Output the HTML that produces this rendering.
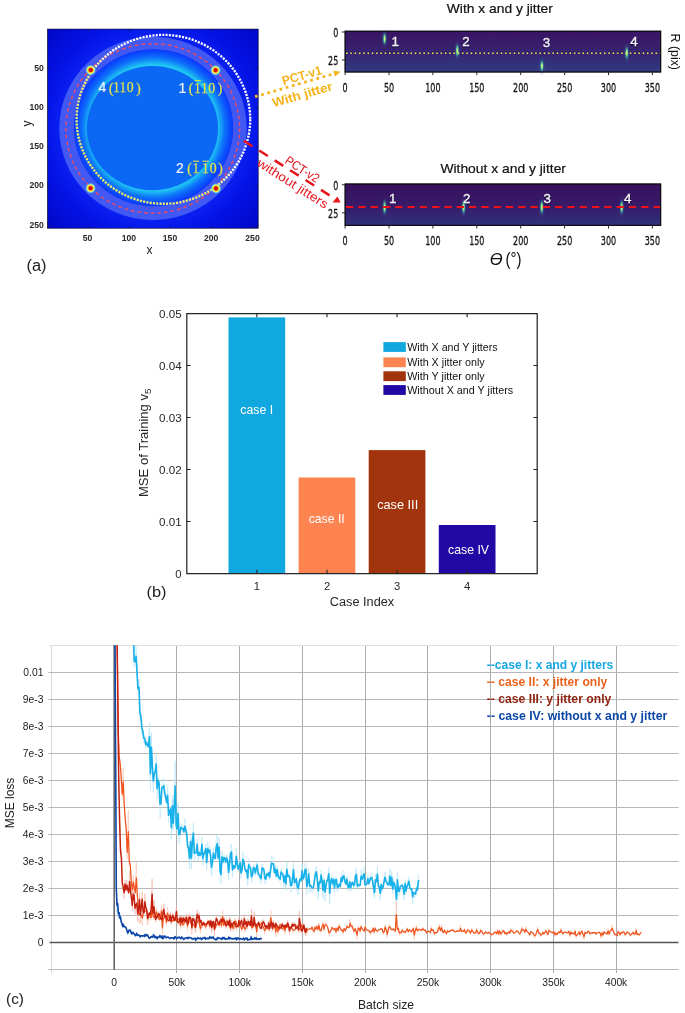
<!DOCTYPE html>
<html><head><meta charset="utf-8"><title>Figure</title>
<style>
html,body{margin:0;padding:0;background:#fff;}
body{width:685px;height:1013px;overflow:hidden;position:relative;}
svg{position:absolute;left:0;top:0;display:block;}
text{font-family:"Liberation Sans",sans-serif;}
.ser{font-family:"Liberation Serif",serif;}
.dj{font-family:"DejaVu Sans","Liberation Sans",sans-serif;}
</style></head><body>
<svg width="685" height="1013" viewBox="0 0 685 1013">
<defs>
<radialGradient id="bgA" gradientUnits="userSpaceOnUse" cx="153" cy="128" r="150">
<stop offset="0.60" stop-color="#0a22f2"/><stop offset="0.72" stop-color="#0414e6"/><stop offset="1" stop-color="#0004c4"/>
</radialGradient>
<radialGradient id="glowA" cx="0.5" cy="0.5" r="0.5">
<stop offset="0.80" stop-color="#20c8f2"/><stop offset="0.84" stop-color="#17a6f5"/><stop offset="0.89" stop-color="#0e74fa"/><stop offset="0.95" stop-color="#0b50fc"/><stop offset="1" stop-color="#0a3afc"/>
</radialGradient>
<radialGradient id="spot" cx="0.5" cy="0.5" r="0.5">
<stop offset="0" stop-color="#c40a0a"/><stop offset="0.33" stop-color="#dc2410"/><stop offset="0.45" stop-color="#ffb820"/><stop offset="0.58" stop-color="#f6fa50"/><stop offset="0.74" stop-color="#78f0d0" stop-opacity="0.8"/><stop offset="1" stop-color="#30b0ff" stop-opacity="0"/>
</radialGradient>
<linearGradient id="dotg" gradientUnits="userSpaceOnUse" x1="95" y1="195" x2="230" y2="45">
<stop offset="0" stop-color="#f0ee58"/><stop offset="0.42" stop-color="#f4f078"/><stop offset="0.58" stop-color="#ffffff"/><stop offset="1" stop-color="#ffffff"/>
</linearGradient>
<linearGradient id="hm1" x1="0" y1="0" x2="0" y2="1">
<stop offset="0" stop-color="#3a1464"/><stop offset="0.5" stop-color="#372370"/><stop offset="1" stop-color="#2f3b83"/>
</linearGradient>
<linearGradient id="hm2" x1="0" y1="0" x2="0" y2="1">
<stop offset="0" stop-color="#38105c"/><stop offset="0.55" stop-color="#371b69"/><stop offset="1" stop-color="#2f327b"/>
</linearGradient>
<radialGradient id="streak" cx="0.5" cy="0.5" r="0.5">
<stop offset="0" stop-color="#f0f070"/><stop offset="0.32" stop-color="#a4ea88"/><stop offset="0.62" stop-color="#40b89c" stop-opacity="0.7"/><stop offset="1" stop-color="#2a7f92" stop-opacity="0"/>
</radialGradient>
<radialGradient id="halo" cx="0.5" cy="0.5" r="0.5">
<stop offset="0" stop-color="#3c90b4" stop-opacity="0.55"/><stop offset="0.5" stop-color="#3878a8" stop-opacity="0.3"/><stop offset="1" stop-color="#34609c" stop-opacity="0"/>
</radialGradient>
<clipPath id="clipA"><rect x="47.4" y="29.1" width="210.8" height="199.1"/></clipPath>
<clipPath id="clipC"><rect x="52" y="645.3" width="627" height="325"/></clipPath>
<filter id="b1" x="-20%" y="-20%" width="140%" height="140%"><feGaussianBlur stdDeviation="0.55"/></filter>
</defs>

<g clip-path="url(#clipA)">
<rect x="47" y="29" width="212" height="200" fill="url(#bgA)"/>
<path fill="#4258f3" fill-rule="evenodd" filter="url(#b1)" d="M 59.30 128.35 a 93.70 91.65 0 1 0 187.40 0 a 93.70 91.65 0 1 0 -187.40 0 Z M 74.10 127.70 a 79.40 78.20 0 1 0 158.80 0 a 79.40 78.20 0 1 0 -158.80 0 Z"/>
<ellipse cx="153.5" cy="127.7" rx="79.7" ry="78.5" fill="url(#glowA)"/>
<ellipse cx="152.5" cy="128.15" rx="65.6" ry="62.05" fill="#0a68f5"/>
<ellipse cx="152.75" cy="128.45" rx="86.85" ry="84.75" fill="none" stroke="#ee4a62" stroke-width="1.4" stroke-dasharray="3.6 3.05"/>
<ellipse cx="163.4" cy="119.35" rx="86.8" ry="84.45" fill="none" stroke="url(#dotg)" stroke-width="2.35" stroke-dasharray="2.1 1.22"/>
<circle cx="90.7" cy="70.0" r="5.6" fill="url(#spot)"/>
<circle cx="215.6" cy="70.2" r="5.6" fill="url(#spot)"/>
<circle cx="90.6" cy="188.2" r="5.6" fill="url(#spot)"/>
<circle cx="216.0" cy="188.4" r="5.6" fill="url(#spot)"/>
</g>
<rect x="47.4" y="29.1" width="210.8" height="199.1" fill="none" stroke="#14143c" stroke-width="0.7"/>
<path d="M88.2 228.2v-2M88.2 29.1v2M47.4 68.2h2M258.2 68.2h-2" stroke="#101030" stroke-width="0.7"/>
<path d="M129.4 228.2v-2M129.4 29.1v2M47.4 107.7h2M258.2 107.7h-2" stroke="#101030" stroke-width="0.7"/>
<path d="M170.6 228.2v-2M170.6 29.1v2M47.4 147.2h2M258.2 147.2h-2" stroke="#101030" stroke-width="0.7"/>
<path d="M211.8 228.2v-2M211.8 29.1v2M47.4 186.7h2M258.2 186.7h-2" stroke="#101030" stroke-width="0.7"/>
<path d="M253.0 228.2v-2M253.0 29.1v2M47.4 226.2h2M258.2 226.2h-2" stroke="#101030" stroke-width="0.7"/>
<text x="102.5" y="92.3" font-size="14" fill="#f2f2fc" stroke="#f2f2fc" stroke-width="0.2" text-anchor="middle">4</text>
<text class="ser" x="111.3" y="92.9" font-size="15.4" fill="#e8e248" stroke="#e8e248" stroke-width="0.25" text-anchor="middle" textLength="4.5" lengthAdjust="spacingAndGlyphs">(</text>
<text class="ser" x="116.5" y="92.3" font-size="15.4" fill="#e8e248" stroke="#e8e248" stroke-width="0.25" text-anchor="middle" textLength="6.3" lengthAdjust="spacingAndGlyphs">1</text>
<text class="ser" x="122.9" y="92.3" font-size="15.4" fill="#e8e248" stroke="#e8e248" stroke-width="0.25" text-anchor="middle" textLength="6.3" lengthAdjust="spacingAndGlyphs">1</text>
<text class="ser" x="130.2" y="92.3" font-size="15.4" fill="#e8e248" stroke="#e8e248" stroke-width="0.25" text-anchor="middle" textLength="6.9" lengthAdjust="spacingAndGlyphs">0</text>
<text class="ser" x="138.6" y="92.9" font-size="15.4" fill="#e8e248" stroke="#e8e248" stroke-width="0.25" text-anchor="middle" textLength="4.5" lengthAdjust="spacingAndGlyphs">)</text>
<text x="182.5" y="92.7" font-size="14" fill="#f2f2fc" stroke="#f2f2fc" stroke-width="0.2" text-anchor="middle">1</text>
<text class="ser" x="190.9" y="93.3" font-size="15.4" fill="#e8e248" stroke="#e8e248" stroke-width="0.25" text-anchor="middle" textLength="4.5" lengthAdjust="spacingAndGlyphs">(</text>
<text class="ser" x="197.5" y="92.7" font-size="15.4" fill="#e8e248" stroke="#e8e248" stroke-width="0.25" text-anchor="middle" textLength="6.3" lengthAdjust="spacingAndGlyphs">1</text>
<text class="ser" x="204.3" y="92.7" font-size="15.4" fill="#e8e248" stroke="#e8e248" stroke-width="0.25" text-anchor="middle" textLength="6.3" lengthAdjust="spacingAndGlyphs">1</text>
<text class="ser" x="211.6" y="92.7" font-size="15.4" fill="#e8e248" stroke="#e8e248" stroke-width="0.25" text-anchor="middle" textLength="6.9" lengthAdjust="spacingAndGlyphs">0</text>
<text class="ser" x="219.9" y="93.3" font-size="15.4" fill="#e8e248" stroke="#e8e248" stroke-width="0.25" text-anchor="middle" textLength="4.5" lengthAdjust="spacingAndGlyphs">)</text>
<line x1="194.7" y1="80.6" x2="200.7" y2="80.6" stroke="#e8e248" stroke-width="1.1"/>
<text x="179.9" y="172.8" font-size="14" fill="#f2f2fc" stroke="#f2f2fc" stroke-width="0.2" text-anchor="middle">2</text>
<text class="ser" x="189.5" y="173.4" font-size="15.4" fill="#e8e248" stroke="#e8e248" stroke-width="0.25" text-anchor="middle" textLength="4.5" lengthAdjust="spacingAndGlyphs">(</text>
<text class="ser" x="196.0" y="172.8" font-size="15.4" fill="#e8e248" stroke="#e8e248" stroke-width="0.25" text-anchor="middle" textLength="6.3" lengthAdjust="spacingAndGlyphs">1</text>
<text class="ser" x="205.4" y="172.8" font-size="15.4" fill="#e8e248" stroke="#e8e248" stroke-width="0.25" text-anchor="middle" textLength="6.3" lengthAdjust="spacingAndGlyphs">1</text>
<text class="ser" x="213.3" y="172.8" font-size="15.4" fill="#e8e248" stroke="#e8e248" stroke-width="0.25" text-anchor="middle" textLength="6.9" lengthAdjust="spacingAndGlyphs">0</text>
<text class="ser" x="220.6" y="173.4" font-size="15.4" fill="#e8e248" stroke="#e8e248" stroke-width="0.25" text-anchor="middle" textLength="4.5" lengthAdjust="spacingAndGlyphs">)</text>
<line x1="193.0" y1="161.2" x2="199.0" y2="161.2" stroke="#e8e248" stroke-width="1.1"/>
<line x1="202.4" y1="161.2" x2="208.5" y2="161.2" stroke="#e8e248" stroke-width="1.1"/>
<text x="87.5" y="240.6" font-size="8.6" fill="#282828" text-anchor="middle" font-weight="bold">50</text>
<text x="43.8" y="71.1" font-size="8.6" fill="#282828" text-anchor="end" font-weight="bold">50</text>
<text x="128.8" y="240.6" font-size="8.6" fill="#282828" text-anchor="middle" font-weight="bold">100</text>
<text x="43.8" y="110.2" font-size="8.6" fill="#282828" text-anchor="end" font-weight="bold">100</text>
<text x="170.0" y="240.6" font-size="8.6" fill="#282828" text-anchor="middle" font-weight="bold">150</text>
<text x="43.8" y="149.3" font-size="8.6" fill="#282828" text-anchor="end" font-weight="bold">150</text>
<text x="211.2" y="240.6" font-size="8.6" fill="#282828" text-anchor="middle" font-weight="bold">200</text>
<text x="43.8" y="188.4" font-size="8.6" fill="#282828" text-anchor="end" font-weight="bold">200</text>
<text x="252.5" y="240.6" font-size="8.6" fill="#282828" text-anchor="middle" font-weight="bold">250</text>
<text x="43.8" y="227.5" font-size="8.6" fill="#282828" text-anchor="end" font-weight="bold">250</text>
<text x="149.5" y="253.6" font-size="12" fill="#222" text-anchor="middle">x</text>
<text transform="translate(30.5,123.5) rotate(-90)" font-size="12" fill="#222" text-anchor="middle">y</text>
<text x="26.5" y="271" font-size="16" fill="#222" textLength="20" lengthAdjust="spacingAndGlyphs">(a)</text>
<line x1="255" y1="96.7" x2="334" y2="73.7" stroke="#f5b41a" stroke-width="2.8" stroke-dasharray="2.7 3.7"/>
<polygon points="340.6,71.8 333.3,70.8 335.0,76.6" fill="#f5b41a"/>
<text transform="translate(303.1,79.6) rotate(-16.2)" font-size="12.6" font-weight="bold" fill="#f5b41a" text-anchor="middle" textLength="41" lengthAdjust="spacingAndGlyphs">PCT-v1</text>
<text transform="translate(303.6,98.6) rotate(-16.2)" font-size="12.6" font-weight="bold" fill="#f5b41a" text-anchor="middle" textLength="62" lengthAdjust="spacingAndGlyphs">With jitter</text>
<line x1="243.8" y1="140.7" x2="331" y2="196.25" stroke="#e6141c" stroke-width="2.5" stroke-dasharray="10.2 8.1"/>
<polygon points="340.6,202.4 332.6,202.4 337.4,196.4" fill="#e6141c"/>
<text transform="translate(300,172.9) rotate(32.5)" font-size="12.6" fill="#e6141c" text-anchor="middle" textLength="38" lengthAdjust="spacingAndGlyphs">PCT-v2</text>
<text transform="translate(290.5,187.1) rotate(32.5)" font-size="12.6" fill="#e6141c" text-anchor="middle" textLength="81.5" lengthAdjust="spacingAndGlyphs">without jitters</text>
<clipPath id="clipH1"><rect x="345" y="31.5" width="316" height="40"/></clipPath>
<rect x="344.8" y="30.9" width="316.2" height="41.4" fill="url(#hm1)"/>
<g clip-path="url(#clipH1)" fill="none" stroke="#541a5c" stroke-width="1.1" opacity="0.55"><ellipse cx="503" cy="26" rx="17" ry="12.4"/><ellipse cx="584.3" cy="27" rx="17" ry="12.3"/></g>
<ellipse cx="384.6" cy="38.8" rx="3.6" ry="10.3" fill="url(#halo)"/>
<ellipse cx="384.6" cy="38.8" rx="2.0" ry="6.8" fill="url(#streak)"/>
<ellipse cx="457.3" cy="50.7" rx="3.6" ry="11.1" fill="url(#halo)"/>
<ellipse cx="457.3" cy="50.7" rx="2.0" ry="7.6" fill="url(#streak)"/>
<ellipse cx="541.9" cy="66.0" rx="3.6" ry="10.3" fill="url(#halo)"/>
<ellipse cx="541.9" cy="66.0" rx="2.0" ry="6.8" fill="url(#streak)"/>
<ellipse cx="626.8" cy="52.9" rx="3.6" ry="10.7" fill="url(#halo)"/>
<ellipse cx="626.8" cy="52.9" rx="2.0" ry="7.2" fill="url(#streak)"/>
<line x1="346.0" y1="53.3" x2="662.5" y2="53.3" stroke="#f0ea4a" stroke-width="1.5" stroke-dasharray="1.5 2.8"/>
<rect x="345.1" y="31.2" width="315.6" height="40.8" fill="none" stroke="#0c0c0c" stroke-width="1.2"/>
<text x="395.5" y="46.7" font-size="13.4" fill="#1c0c3c" stroke="#1c0c3c" stroke-width="1.1" text-anchor="middle" opacity="0.75">1</text>
<text x="395.2" y="46.3" font-size="13.4" fill="#f4f4f8" stroke="#f4f4f8" stroke-width="0.35" text-anchor="middle">1</text>
<text x="466.2" y="46.7" font-size="13.4" fill="#1c0c3c" stroke="#1c0c3c" stroke-width="1.1" text-anchor="middle" opacity="0.75">2</text>
<text x="465.9" y="46.3" font-size="13.4" fill="#f4f4f8" stroke="#f4f4f8" stroke-width="0.35" text-anchor="middle">2</text>
<text x="546.7" y="47.0" font-size="13.4" fill="#1c0c3c" stroke="#1c0c3c" stroke-width="1.1" text-anchor="middle" opacity="0.75">3</text>
<text x="546.4" y="46.6" font-size="13.4" fill="#f4f4f8" stroke="#f4f4f8" stroke-width="0.35" text-anchor="middle">3</text>
<text x="634.3" y="46.7" font-size="13.4" fill="#1c0c3c" stroke="#1c0c3c" stroke-width="1.1" text-anchor="middle" opacity="0.75">4</text>
<text x="634.0" y="46.3" font-size="13.4" fill="#f4f4f8" stroke="#f4f4f8" stroke-width="0.35" text-anchor="middle">4</text>
<line x1="345.1" y1="72.3" x2="345.1" y2="75.1" stroke="#111" stroke-width="0.9"/>
<text class="dj" x="345.1" y="91.8" font-size="13" fill="#111" stroke="#111" stroke-width="0.3" text-anchor="middle" textLength="5.1" lengthAdjust="spacingAndGlyphs">0</text>
<line x1="389.0" y1="72.3" x2="389.0" y2="75.1" stroke="#111" stroke-width="0.9"/>
<text class="dj" x="389.0" y="91.8" font-size="13" fill="#111" stroke="#111" stroke-width="0.3" text-anchor="middle" textLength="10.2" lengthAdjust="spacingAndGlyphs">50</text>
<line x1="432.9" y1="72.3" x2="432.9" y2="75.1" stroke="#111" stroke-width="0.9"/>
<text class="dj" x="432.9" y="91.8" font-size="13" fill="#111" stroke="#111" stroke-width="0.3" text-anchor="middle" textLength="15.3" lengthAdjust="spacingAndGlyphs">100</text>
<line x1="476.8" y1="72.3" x2="476.8" y2="75.1" stroke="#111" stroke-width="0.9"/>
<text class="dj" x="476.8" y="91.8" font-size="13" fill="#111" stroke="#111" stroke-width="0.3" text-anchor="middle" textLength="15.3" lengthAdjust="spacingAndGlyphs">150</text>
<line x1="520.7" y1="72.3" x2="520.7" y2="75.1" stroke="#111" stroke-width="0.9"/>
<text class="dj" x="520.7" y="91.8" font-size="13" fill="#111" stroke="#111" stroke-width="0.3" text-anchor="middle" textLength="15.3" lengthAdjust="spacingAndGlyphs">200</text>
<line x1="564.6" y1="72.3" x2="564.6" y2="75.1" stroke="#111" stroke-width="0.9"/>
<text class="dj" x="564.6" y="91.8" font-size="13" fill="#111" stroke="#111" stroke-width="0.3" text-anchor="middle" textLength="15.3" lengthAdjust="spacingAndGlyphs">250</text>
<line x1="608.5" y1="72.3" x2="608.5" y2="75.1" stroke="#111" stroke-width="0.9"/>
<text class="dj" x="608.5" y="91.8" font-size="13" fill="#111" stroke="#111" stroke-width="0.3" text-anchor="middle" textLength="15.3" lengthAdjust="spacingAndGlyphs">300</text>
<line x1="652.4" y1="72.3" x2="652.4" y2="75.1" stroke="#111" stroke-width="0.9"/>
<text class="dj" x="652.4" y="91.8" font-size="13" fill="#111" stroke="#111" stroke-width="0.3" text-anchor="middle" textLength="15.3" lengthAdjust="spacingAndGlyphs">350</text>
<line x1="341.8" y1="32.0" x2="344.8" y2="32.0" stroke="#111" stroke-width="0.9"/>
<text class="dj" x="338.3" y="36.7" font-size="13" fill="#111" stroke="#111" stroke-width="0.3" text-anchor="end" textLength="5.1" lengthAdjust="spacingAndGlyphs">0</text>
<line x1="341.8" y1="60.0" x2="344.8" y2="60.0" stroke="#111" stroke-width="0.9"/>
<text class="dj" x="338.3" y="64.7" font-size="13" fill="#111" stroke="#111" stroke-width="0.3" text-anchor="end" textLength="10.2" lengthAdjust="spacingAndGlyphs">25</text>
<text x="499.8" y="12.9" font-size="12.8" fill="#111" stroke="#111" stroke-width="0.2" text-anchor="middle" textLength="106.0" lengthAdjust="spacingAndGlyphs">With x and y jitter</text>
<rect x="344.8" y="183.7" width="316.2" height="42.0" fill="url(#hm2)"/>
<ellipse cx="384.6" cy="207.2" rx="3.6" ry="11.3" fill="url(#halo)"/>
<ellipse cx="384.6" cy="207.2" rx="2.0" ry="7.8" fill="url(#streak)"/>
<ellipse cx="463.6" cy="207.2" rx="3.6" ry="11.3" fill="url(#halo)"/>
<ellipse cx="463.6" cy="207.2" rx="2.0" ry="7.8" fill="url(#streak)"/>
<ellipse cx="541.8" cy="207.2" rx="3.6" ry="11.3" fill="url(#halo)"/>
<ellipse cx="541.8" cy="207.2" rx="2.0" ry="7.8" fill="url(#streak)"/>
<ellipse cx="621.7" cy="207.2" rx="3.6" ry="11.3" fill="url(#halo)"/>
<ellipse cx="621.7" cy="207.2" rx="2.0" ry="7.8" fill="url(#streak)"/>
<line x1="346.0" y1="207.1" x2="662.5" y2="207.1" stroke="#f01216" stroke-width="2.0" stroke-dasharray="7.3 5.0"/>
<rect x="345.1" y="184.0" width="315.6" height="41.4" fill="none" stroke="#0c0c0c" stroke-width="1.2"/>
<text x="393.1" y="203.4" font-size="13.4" fill="#1c0c3c" stroke="#1c0c3c" stroke-width="1.1" text-anchor="middle" opacity="0.75">1</text>
<text x="392.8" y="203.0" font-size="13.4" fill="#f4f4f8" stroke="#f4f4f8" stroke-width="0.35" text-anchor="middle">1</text>
<text x="467.0" y="203.4" font-size="13.4" fill="#1c0c3c" stroke="#1c0c3c" stroke-width="1.1" text-anchor="middle" opacity="0.75">2</text>
<text x="466.7" y="203.0" font-size="13.4" fill="#f4f4f8" stroke="#f4f4f8" stroke-width="0.35" text-anchor="middle">2</text>
<text x="547.6" y="203.7" font-size="13.4" fill="#1c0c3c" stroke="#1c0c3c" stroke-width="1.1" text-anchor="middle" opacity="0.75">3</text>
<text x="547.3" y="203.3" font-size="13.4" fill="#f4f4f8" stroke="#f4f4f8" stroke-width="0.35" text-anchor="middle">3</text>
<text x="628.0" y="203.7" font-size="13.4" fill="#1c0c3c" stroke="#1c0c3c" stroke-width="1.1" text-anchor="middle" opacity="0.75">4</text>
<text x="627.7" y="203.3" font-size="13.4" fill="#f4f4f8" stroke="#f4f4f8" stroke-width="0.35" text-anchor="middle">4</text>
<line x1="345.1" y1="225.7" x2="345.1" y2="228.5" stroke="#111" stroke-width="0.9"/>
<text class="dj" x="345.1" y="245.2" font-size="13" fill="#111" stroke="#111" stroke-width="0.3" text-anchor="middle" textLength="5.1" lengthAdjust="spacingAndGlyphs">0</text>
<line x1="389.0" y1="225.7" x2="389.0" y2="228.5" stroke="#111" stroke-width="0.9"/>
<text class="dj" x="389.0" y="245.2" font-size="13" fill="#111" stroke="#111" stroke-width="0.3" text-anchor="middle" textLength="10.2" lengthAdjust="spacingAndGlyphs">50</text>
<line x1="432.9" y1="225.7" x2="432.9" y2="228.5" stroke="#111" stroke-width="0.9"/>
<text class="dj" x="432.9" y="245.2" font-size="13" fill="#111" stroke="#111" stroke-width="0.3" text-anchor="middle" textLength="15.3" lengthAdjust="spacingAndGlyphs">100</text>
<line x1="476.8" y1="225.7" x2="476.8" y2="228.5" stroke="#111" stroke-width="0.9"/>
<text class="dj" x="476.8" y="245.2" font-size="13" fill="#111" stroke="#111" stroke-width="0.3" text-anchor="middle" textLength="15.3" lengthAdjust="spacingAndGlyphs">150</text>
<line x1="520.7" y1="225.7" x2="520.7" y2="228.5" stroke="#111" stroke-width="0.9"/>
<text class="dj" x="520.7" y="245.2" font-size="13" fill="#111" stroke="#111" stroke-width="0.3" text-anchor="middle" textLength="15.3" lengthAdjust="spacingAndGlyphs">200</text>
<line x1="564.6" y1="225.7" x2="564.6" y2="228.5" stroke="#111" stroke-width="0.9"/>
<text class="dj" x="564.6" y="245.2" font-size="13" fill="#111" stroke="#111" stroke-width="0.3" text-anchor="middle" textLength="15.3" lengthAdjust="spacingAndGlyphs">250</text>
<line x1="608.5" y1="225.7" x2="608.5" y2="228.5" stroke="#111" stroke-width="0.9"/>
<text class="dj" x="608.5" y="245.2" font-size="13" fill="#111" stroke="#111" stroke-width="0.3" text-anchor="middle" textLength="15.3" lengthAdjust="spacingAndGlyphs">300</text>
<line x1="652.4" y1="225.7" x2="652.4" y2="228.5" stroke="#111" stroke-width="0.9"/>
<text class="dj" x="652.4" y="245.2" font-size="13" fill="#111" stroke="#111" stroke-width="0.3" text-anchor="middle" textLength="15.3" lengthAdjust="spacingAndGlyphs">350</text>
<line x1="341.8" y1="184.8" x2="344.8" y2="184.8" stroke="#111" stroke-width="0.9"/>
<text class="dj" x="338.3" y="189.5" font-size="13" fill="#111" stroke="#111" stroke-width="0.3" text-anchor="end" textLength="5.1" lengthAdjust="spacingAndGlyphs">0</text>
<line x1="341.8" y1="212.8" x2="344.8" y2="212.8" stroke="#111" stroke-width="0.9"/>
<text class="dj" x="338.3" y="217.5" font-size="13" fill="#111" stroke="#111" stroke-width="0.3" text-anchor="end" textLength="10.2" lengthAdjust="spacingAndGlyphs">25</text>
<text x="503.2" y="172.5" font-size="12.8" fill="#111" stroke="#111" stroke-width="0.2" text-anchor="middle" textLength="125.6" lengthAdjust="spacingAndGlyphs">Without x and y jitter</text>
<text transform="translate(671.2,33.5) rotate(90)" font-size="12.5" fill="#111" textLength="36.5" lengthAdjust="spacingAndGlyphs">R (pix)</text>
<text x="489.8" y="265" font-size="16.5" fill="#111" font-style="italic">ϴ</text>
<text x="505.5" y="265.2" font-size="17.5" fill="#111" textLength="16" lengthAdjust="spacingAndGlyphs">(°)</text>
<rect x="228.5" y="317.4" width="56.7" height="256.1" fill="#10a8df"/>
<rect x="298.6" y="477.5" width="56.7" height="96.0" fill="#fd8451"/>
<rect x="368.7" y="450.1" width="56.7" height="123.4" fill="#a2340d"/>
<rect x="438.8" y="525.0" width="56.7" height="48.5" fill="#2108a4"/>
<path d="M 186.8 313.5 H 537.2 V 573.5 H 186.8 Z" fill="none" stroke="#262626" stroke-width="1.25"/>
<path d="M256.9 573.5v-3.8M256.9 313.5v3.8" stroke="#262626" stroke-width="1.1"/>
<text x="256.9" y="589.8" font-size="11.2" fill="#262626" text-anchor="middle">1</text>
<path d="M327.0 573.5v-3.8M327.0 313.5v3.8" stroke="#262626" stroke-width="1.1"/>
<text x="327.0" y="589.8" font-size="11.2" fill="#262626" text-anchor="middle">2</text>
<path d="M397.0 573.5v-3.8M397.0 313.5v3.8" stroke="#262626" stroke-width="1.1"/>
<text x="397.0" y="589.8" font-size="11.2" fill="#262626" text-anchor="middle">3</text>
<path d="M467.1 573.5v-3.8M467.1 313.5v3.8" stroke="#262626" stroke-width="1.1"/>
<text x="467.1" y="589.8" font-size="11.2" fill="#262626" text-anchor="middle">4</text>
<path d="M186.8 573.5h3.8M537.2 573.5h-3.8" stroke="#262626" stroke-width="1.1"/>
<text x="181.6" y="577.6" font-size="11" fill="#262626" text-anchor="end" textLength="6.3" lengthAdjust="spacingAndGlyphs">0</text>
<path d="M186.8 521.5h3.8M537.2 521.5h-3.8" stroke="#262626" stroke-width="1.1"/>
<text x="181.6" y="525.6" font-size="11" fill="#262626" text-anchor="end" textLength="22.6" lengthAdjust="spacingAndGlyphs">0.01</text>
<path d="M186.8 469.5h3.8M537.2 469.5h-3.8" stroke="#262626" stroke-width="1.1"/>
<text x="181.6" y="473.6" font-size="11" fill="#262626" text-anchor="end" textLength="22.6" lengthAdjust="spacingAndGlyphs">0.02</text>
<path d="M186.8 417.5h3.8M537.2 417.5h-3.8" stroke="#262626" stroke-width="1.1"/>
<text x="181.6" y="421.6" font-size="11" fill="#262626" text-anchor="end" textLength="22.6" lengthAdjust="spacingAndGlyphs">0.03</text>
<path d="M186.8 365.5h3.8M537.2 365.5h-3.8" stroke="#262626" stroke-width="1.1"/>
<text x="181.6" y="369.6" font-size="11" fill="#262626" text-anchor="end" textLength="22.6" lengthAdjust="spacingAndGlyphs">0.04</text>
<path d="M186.8 313.5h3.8M537.2 313.5h-3.8" stroke="#262626" stroke-width="1.1"/>
<text x="181.6" y="317.6" font-size="11" fill="#262626" text-anchor="end" textLength="22.6" lengthAdjust="spacingAndGlyphs">0.05</text>
<text x="362" y="606.3" font-size="12" fill="#262626" text-anchor="middle" textLength="64.5" lengthAdjust="spacingAndGlyphs">Case Index</text>
<text transform="translate(148.3,442.8) rotate(-90)" font-size="12" fill="#262626" text-anchor="middle" textLength="108.5" lengthAdjust="spacingAndGlyphs">MSE of Training v<tspan font-size="9" dy="3">5</tspan></text>
<text x="146.5" y="597.3" font-size="15.5" fill="#222" textLength="20" lengthAdjust="spacingAndGlyphs">(b)</text>
<text x="256.8" y="413.5" font-size="12.6" fill="#fff" text-anchor="middle" textLength="33.0" lengthAdjust="spacingAndGlyphs">case I</text>
<text x="326.7" y="522.5" font-size="12.6" fill="#fff" text-anchor="middle" textLength="36.0" lengthAdjust="spacingAndGlyphs">case II</text>
<text x="397.7" y="509.0" font-size="12.6" fill="#fff" text-anchor="middle" textLength="41.0" lengthAdjust="spacingAndGlyphs">case III</text>
<text x="468.5" y="554.0" font-size="12.6" fill="#fff" text-anchor="middle" textLength="41.0" lengthAdjust="spacingAndGlyphs">case IV</text>
<rect x="383.4" y="342.1" width="22.4" height="9.8" fill="#10a8df"/>
<text x="407.2" y="350.7" font-size="10.4" fill="#111" textLength="90.5" lengthAdjust="spacingAndGlyphs">With X and Y jitters</text>
<rect x="383.4" y="357.4" width="22.4" height="9.8" fill="#fd8451"/>
<text x="407.2" y="366.0" font-size="10.4" fill="#111" textLength="77.5" lengthAdjust="spacingAndGlyphs">With X jitter only</text>
<rect x="383.4" y="371.3" width="22.4" height="9.8" fill="#a2340d"/>
<text x="407.2" y="379.9" font-size="10.4" fill="#111" textLength="77.5" lengthAdjust="spacingAndGlyphs">With Y jitter only</text>
<rect x="383.4" y="385.1" width="22.4" height="9.8" fill="#2108a4"/>
<text x="407.2" y="393.7" font-size="10.4" fill="#111" textLength="106.0" lengthAdjust="spacingAndGlyphs">Without X and Y jitters</text>
<line x1="51.5" y1="645" x2="51.5" y2="973" stroke="#d8d8d8" stroke-width="1"/>
<line x1="176.5" y1="645" x2="176.5" y2="973" stroke="#ababab" stroke-width="1"/>
<line x1="239.5" y1="645" x2="239.5" y2="973" stroke="#ababab" stroke-width="1"/>
<line x1="302.5" y1="645" x2="302.5" y2="973" stroke="#ababab" stroke-width="1"/>
<line x1="365.5" y1="645" x2="365.5" y2="973" stroke="#ababab" stroke-width="1"/>
<line x1="427.5" y1="645" x2="427.5" y2="973" stroke="#ababab" stroke-width="1"/>
<line x1="490.5" y1="645" x2="490.5" y2="973" stroke="#ababab" stroke-width="1"/>
<line x1="553.5" y1="645" x2="553.5" y2="973" stroke="#ababab" stroke-width="1"/>
<line x1="616.5" y1="645" x2="616.5" y2="973" stroke="#ababab" stroke-width="1"/>
<line x1="48.3" y1="969.5" x2="678.5" y2="969.5" stroke="#b8b8b8" stroke-width="1"/>
<line x1="48.3" y1="915.5" x2="678.5" y2="915.5" stroke="#b8b8b8" stroke-width="1"/>
<line x1="48.3" y1="888.5" x2="678.5" y2="888.5" stroke="#b8b8b8" stroke-width="1"/>
<line x1="48.3" y1="861.5" x2="678.5" y2="861.5" stroke="#b8b8b8" stroke-width="1"/>
<line x1="48.3" y1="834.5" x2="678.5" y2="834.5" stroke="#b8b8b8" stroke-width="1"/>
<line x1="48.3" y1="807.5" x2="678.5" y2="807.5" stroke="#b8b8b8" stroke-width="1"/>
<line x1="48.3" y1="780.5" x2="678.5" y2="780.5" stroke="#b8b8b8" stroke-width="1"/>
<line x1="48.3" y1="753.5" x2="678.5" y2="753.5" stroke="#b8b8b8" stroke-width="1"/>
<line x1="48.3" y1="726.5" x2="678.5" y2="726.5" stroke="#b8b8b8" stroke-width="1"/>
<line x1="48.3" y1="699.5" x2="678.5" y2="699.5" stroke="#b8b8b8" stroke-width="1"/>
<line x1="48.3" y1="672.5" x2="678.5" y2="672.5" stroke="#b8b8b8" stroke-width="1"/>
<line x1="49.5" y1="645.5" x2="678.5" y2="645.5" stroke="#e0e0e0" stroke-width="1"/>
<line x1="49.5" y1="942.5" x2="678.5" y2="942.5" stroke="#555" stroke-width="1.4"/>
<line x1="114.2" y1="645" x2="114.2" y2="970" stroke="#666" stroke-width="1.6"/>
<text x="43.4" y="946.2" font-size="10.3" fill="#222" text-anchor="end">0</text>
<text x="43.4" y="919.2" font-size="10.3" fill="#222" text-anchor="end">1e-3</text>
<text x="43.4" y="892.2" font-size="10.3" fill="#222" text-anchor="end">2e-3</text>
<text x="43.4" y="865.2" font-size="10.3" fill="#222" text-anchor="end">3e-3</text>
<text x="43.4" y="838.2" font-size="10.3" fill="#222" text-anchor="end">4e-3</text>
<text x="43.4" y="811.2" font-size="10.3" fill="#222" text-anchor="end">5e-3</text>
<text x="43.4" y="784.2" font-size="10.3" fill="#222" text-anchor="end">6e-3</text>
<text x="43.4" y="757.2" font-size="10.3" fill="#222" text-anchor="end">7e-3</text>
<text x="43.4" y="730.2" font-size="10.3" fill="#222" text-anchor="end">8e-3</text>
<text x="43.4" y="703.2" font-size="10.3" fill="#222" text-anchor="end">9e-3</text>
<text x="43.4" y="676.2" font-size="10.3" fill="#222" text-anchor="end">0.01</text>
<text x="114.2" y="986.2" font-size="10.3" fill="#222" text-anchor="middle">0</text>
<text x="176.9" y="986.2" font-size="10.3" fill="#222" text-anchor="middle">50k</text>
<text x="239.7" y="986.2" font-size="10.3" fill="#222" text-anchor="middle">100k</text>
<text x="302.4" y="986.2" font-size="10.3" fill="#222" text-anchor="middle">150k</text>
<text x="365.2" y="986.2" font-size="10.3" fill="#222" text-anchor="middle">200k</text>
<text x="427.9" y="986.2" font-size="10.3" fill="#222" text-anchor="middle">250k</text>
<text x="490.6" y="986.2" font-size="10.3" fill="#222" text-anchor="middle">300k</text>
<text x="553.4" y="986.2" font-size="10.3" fill="#222" text-anchor="middle">350k</text>
<text x="616.1" y="986.2" font-size="10.3" fill="#222" text-anchor="middle">400k</text>
<text transform="translate(13.8,803) rotate(-90)" font-size="12.5" fill="#222" text-anchor="middle" textLength="50.5" lengthAdjust="spacingAndGlyphs">MSE loss</text>
<text x="386" y="1009.4" font-size="13.4" fill="#222" text-anchor="middle" textLength="56" lengthAdjust="spacingAndGlyphs">Batch size</text>
<text x="6" y="1004" font-size="15" fill="#222" textLength="18" lengthAdjust="spacingAndGlyphs">(c)</text>
<g clip-path="url(#clipC)" fill="none" stroke-linejoin="round">
<path d="M114.2,620.0 L115.2,620.0 L116.1,620.0 L117.1,620.0 L118.0,620.0 L119.0,620.0 L119.9,620.0 L120.9,620.0 L121.8,620.0 L122.8,620.0 L123.7,620.0 L124.7,620.0 L125.6,620.0 L126.6,620.0 L127.6,620.0 L128.5,620.0 L129.5,620.0 L130.4,620.0 L131.4,620.0 L132.3,635.4 L133.3,620.0 L134.2,666.3 L135.2,653.2 L136.1,640.0 L137.1,669.4 L138.0,689.5 L139.0,679.4 L139.9,720.9 L140.9,717.1 L141.9,734.4 L142.8,732.1 L143.8,743.0 L144.7,739.6 L145.7,748.0 L146.6,740.9 L147.6,745.3 L148.5,743.8 L149.5,723.0 L150.4,790.9 L151.4,732.7 L152.3,768.7 L153.3,792.4 L154.3,773.3 L155.2,770.9 L156.2,754.5 L157.1,799.5 L158.1,777.2 L159.0,781.9 L160.0,818.5 L160.9,811.5 L161.9,781.1 L162.8,782.0 L163.8,777.8 L164.7,790.3 L165.7,795.2 L166.7,802.3 L167.6,786.4 L168.6,822.7 L169.5,812.9 L170.5,806.0 L171.4,839.4 L172.4,794.9 L173.3,829.9 L174.3,790.3 L175.2,760.9 L176.2,835.1 L177.1,832.0 L178.1,802.5 L179.0,843.4 L180.0,835.4 L181.0,823.3 L181.9,825.8 L182.9,825.6 L183.8,830.3 L184.8,818.4 L185.7,824.5 L186.7,831.8 L187.6,850.4 L188.6,852.1 L189.5,869.0 L190.5,835.7 L191.4,869.0 L192.4,834.8 L193.4,823.1 L194.3,861.0 L195.3,855.4 L196.2,854.8 L197.2,839.1 L198.1,860.9 L199.1,852.5 L200.0,857.9 L201.0,855.2 L201.9,837.0 L202.9,865.0 L203.8,852.8 L204.8,850.8 L205.8,844.2 L206.7,870.1 L207.7,842.0 L208.6,850.6 L209.6,845.8 L210.5,855.7 L211.5,876.3 L212.4,865.0 L213.4,848.2 L214.3,857.7 L215.3,859.0 L216.2,838.0 L217.2,833.6 L218.1,859.8 L219.1,837.4 L220.1,882.9 L221.0,883.7 L222.0,850.6 L222.9,863.8 L223.9,854.6 L224.8,855.7 L225.8,863.0 L226.7,854.7 L227.7,861.0 L228.6,880.2 L229.6,861.1 L230.5,846.4 L231.5,844.0 L232.5,877.1 L233.4,864.8 L234.4,870.0 L235.3,867.2 L236.3,848.1 L237.2,862.4 L238.2,871.9 L239.1,865.6 L240.1,859.3 L241.0,878.4 L242.0,870.7 L242.9,851.6 L243.9,859.1 L244.8,868.9 L245.8,873.7 L246.8,870.4 L247.7,885.4 L248.7,859.1 L249.6,865.7 L250.6,868.0 L251.5,883.3 L252.5,877.3 L253.4,864.6 L254.4,867.5 L255.3,875.5 L256.3,865.2 L257.2,860.9 L258.2,877.9 L259.2,876.6 L260.1,880.3 L261.1,883.4 L262.0,863.4 L263.0,866.6 L263.9,868.6 L264.9,884.3 L265.8,883.2 L266.8,873.3 L267.7,877.1 L268.7,871.8 L269.6,880.3 L270.6,866.8 L271.6,855.4 L272.5,858.2 L273.5,857.7 L274.4,873.5 L275.4,865.1 L276.3,878.3 L277.3,865.5 L278.2,878.7 L279.2,880.0 L280.1,881.7 L281.1,868.5 L282.0,872.8 L283.0,873.9 L283.9,887.2 L284.9,874.6 L285.9,890.4 L286.8,861.8 L287.8,877.8 L288.7,874.7 L289.7,877.8 L290.6,892.5 L291.6,890.5 L292.5,877.5 L293.5,862.8 L294.4,888.4 L295.4,884.5 L296.3,878.3 L297.3,894.3 L298.3,894.6 L299.2,882.3 L300.2,878.9 L301.1,882.3 L302.1,864.0 L303.0,880.4 L304.0,875.5 L304.9,863.8 L305.9,862.9 L306.8,894.5 L307.8,883.0 L308.7,868.5 L309.7,892.8 L310.7,888.6 L311.6,892.2 L312.6,892.9 L313.5,890.9 L314.5,878.6 L315.4,868.4 L316.4,866.1 L317.3,880.5 L318.3,899.3 L319.2,881.4 L320.2,884.1 L321.1,869.9 L322.1,882.4 L323.0,898.1 L324.0,877.5 L325.0,900.8 L325.9,888.1 L326.9,878.8 L327.8,878.6 L328.8,867.4 L329.7,904.0 L330.7,879.0 L331.6,875.9 L332.6,885.4 L333.5,876.6 L334.5,892.8 L335.4,876.6 L336.4,877.7 L337.4,891.7 L338.3,888.9 L339.3,884.5 L340.2,888.8 L341.2,873.2 L342.1,881.2 L343.1,870.8 L344.0,872.1 L345.0,882.4 L345.9,884.8 L346.9,876.0 L347.8,890.4 L348.8,890.4 L349.8,879.9 L350.7,891.3 L351.7,882.5 L352.6,881.4 L353.6,887.8 L354.5,885.0 L355.5,870.1 L356.4,868.6 L357.4,890.5 L358.3,885.2 L359.3,886.8 L360.2,886.0 L361.2,869.5 L362.1,877.3 L363.1,872.1 L364.1,867.4 L365.0,887.7 L366.0,885.4 L366.9,883.4 L367.9,874.5 L368.8,884.7 L369.8,878.1 L370.7,873.4 L371.7,873.5 L372.6,880.1 L373.6,891.4 L374.5,898.4 L375.5,874.2 L376.5,880.3 L377.4,866.3 L378.4,889.1 L379.3,888.7 L380.3,899.8 L381.2,882.5 L382.2,891.9 L383.1,887.5 L384.1,878.3 L385.0,871.7 L386.0,880.2 L386.9,881.4 L387.9,884.9 L388.9,884.8 L389.8,868.7 L390.8,886.9 L391.7,870.9 L392.7,893.7 L393.6,879.1 L394.6,884.1 L395.5,892.2 L396.5,909.4 L397.4,871.7 L398.4,896.3 L399.3,894.7 L400.3,885.1 L401.2,885.9 L402.2,884.0 L403.2,888.8 L404.1,899.9 L405.1,879.2 L406.0,894.9 L407.0,885.1 L407.9,882.1 L408.9,876.9 L409.8,889.3 L410.8,890.2 L411.7,889.7 L412.7,903.9 L413.6,894.4 L414.6,896.7 L415.6,898.1 L416.5,886.7 L417.5,891.0 L418.4,874.6 L419.4,875.6" stroke="#b4e5f9" stroke-width="0.75" opacity="0.8"/>
<path d="M114.2,620.0 L115.2,620.0 L116.2,620.0 L117.2,652.8 L118.2,724.3 L119.2,763.6 L120.2,762.9 L121.2,778.0 L122.2,797.7 L123.2,768.0 L124.2,808.2 L125.2,816.4 L126.2,824.9 L127.2,858.7 L128.3,810.3 L129.3,865.4 L130.3,861.1 L131.3,887.1 L132.3,894.2 L133.3,875.6 L134.3,886.0 L135.3,892.7 L136.3,862.4 L137.3,894.4 L138.3,912.7 L139.3,923.6 L140.3,919.5 L141.3,921.2 L142.3,925.7 L143.3,913.3 L144.3,913.4 L145.3,910.6 L146.3,909.8 L147.3,915.2 L148.3,914.9 L149.3,913.0 L150.3,920.8 L151.3,919.2 L152.3,894.4 L153.3,919.7 L154.4,919.3 L155.4,916.7 L156.4,907.8 L157.4,914.7 L158.4,919.2 L159.4,921.1 L160.4,918.6 L161.4,904.8 L162.4,937.1 L163.4,915.4 L164.4,917.4 L165.4,913.9 L166.4,925.8 L167.4,907.1 L168.4,913.8 L169.4,919.9 L170.4,918.9 L171.4,924.0 L172.4,919.9 L173.4,921.1 L174.4,915.3 L175.4,918.7 L176.4,921.3 L177.4,917.3 L178.4,918.1 L179.4,919.9 L180.5,929.4 L181.5,915.8 L182.5,927.6 L183.5,926.8 L184.5,922.1 L185.5,919.0 L186.5,914.4 L187.5,930.6 L188.5,914.3 L189.5,913.6 L190.5,924.5 L191.5,923.2 L192.5,925.2 L193.5,925.4 L194.5,929.2 L195.5,931.0 L196.5,923.6 L197.5,921.4 L198.5,913.6 L199.5,927.8 L200.5,933.3 L201.5,922.3 L202.5,925.4 L203.5,921.4 L204.5,925.2 L205.5,929.4 L206.6,926.7 L207.6,919.5 L208.6,922.1 L209.6,928.2 L210.6,919.4 L211.6,930.6 L212.6,926.3 L213.6,922.8 L214.6,930.3 L215.6,929.5 L216.6,923.9 L217.6,924.4 L218.6,925.2 L219.6,926.8 L220.6,915.2 L221.6,927.9 L222.6,910.1 L223.6,927.2 L224.6,917.4 L225.6,927.2 L226.6,918.2 L227.6,918.9 L228.6,922.6 L229.6,927.6 L230.6,931.0 L231.6,920.4 L232.7,930.6 L233.7,930.6 L234.7,918.0 L235.7,918.4 L236.7,924.8 L237.7,926.2 L238.7,928.1 L239.7,923.6 L240.7,927.4 L241.7,932.0 L242.7,928.7 L243.7,924.2 L244.7,932.4 L245.7,929.8 L246.7,924.9 L247.7,918.1 L248.7,924.8 L249.7,925.5 L250.7,917.3 L251.7,930.3 L252.7,928.9 L253.7,922.2 L254.7,921.2 L255.7,923.9 L256.7,937.2 L257.7,922.8 L258.8,923.2 L259.8,925.9 L260.8,923.3 L261.8,920.2 L262.8,926.0 L263.8,930.2 L264.8,934.0 L265.8,926.1 L266.8,929.4 L267.8,928.8 L268.8,931.2 L269.8,925.3 L270.8,910.3 L271.8,924.7 L272.8,931.2 L273.8,922.9 L274.8,925.3 L275.8,936.9 L276.8,924.2 L277.8,935.1 L278.8,931.4 L279.8,922.4 L280.8,924.1 L281.8,929.5 L282.8,930.5 L283.8,925.5 L284.9,934.3 L285.9,925.3 L286.9,928.2 L287.9,924.1 L288.9,927.6 L289.9,931.5 L290.9,926.3 L291.9,928.6 L292.9,932.9 L293.9,931.9 L294.9,931.3 L295.9,927.1 L296.9,924.3 L297.9,926.8 L298.9,932.2 L299.9,928.9 L300.9,925.2 L301.9,923.2 L302.9,931.2 L303.9,926.4 L304.9,929.1 L305.9,936.1 L306.9,932.7 L307.9,929.9 L308.9,929.7 L309.9,929.3 L311.0,930.1 L312.0,926.3 L313.0,931.5 L314.0,934.0 L315.0,925.9 L316.0,930.3 L317.0,924.8 L318.0,931.1 L319.0,922.9 L320.0,932.7 L321.0,932.6 L322.0,925.3 L323.0,921.2 L324.0,931.1 L325.0,922.1 L326.0,922.3 L327.0,925.1 L328.0,929.0 L329.0,936.5 L330.0,934.1 L331.0,931.3 L332.0,926.3 L333.0,929.0 L334.0,930.8 L335.0,928.0 L336.0,934.6 L337.1,926.9 L338.1,932.0 L339.1,923.6 L340.1,927.9 L341.1,931.3 L342.1,930.5 L343.1,934.5 L344.1,927.9 L345.1,932.3 L346.1,929.0 L347.1,924.4 L348.1,927.4 L349.1,926.9 L350.1,918.9 L351.1,926.1 L352.1,924.6 L353.1,929.7 L354.1,933.1 L355.1,928.0 L356.1,933.1 L357.1,939.9 L358.1,926.7 L359.1,927.7 L360.1,932.8 L361.1,924.2 L362.1,929.2 L363.2,930.7 L364.2,932.5 L365.2,924.8 L366.2,930.6 L367.2,930.9 L368.2,930.8 L369.2,932.0 L370.2,935.3 L371.2,931.9 L372.2,932.5 L373.2,926.9 L374.2,934.0 L375.2,927.0 L376.2,931.3 L377.2,932.4 L378.2,930.2 L379.2,929.5 L380.2,929.3 L381.2,927.7 L382.2,929.0 L383.2,935.1 L384.2,932.2 L385.2,924.2 L386.2,930.3 L387.2,937.9 L388.2,929.4 L389.3,924.2 L390.3,926.1 L391.3,929.9 L392.3,929.4 L393.3,928.0 L394.3,930.7 L395.3,931.9 L396.3,901.6 L397.3,931.6 L398.3,927.0 L399.3,935.6 L400.3,933.0 L401.3,934.3 L402.3,929.1 L403.3,932.6 L404.3,932.7 L405.3,933.6 L406.3,930.2 L407.3,927.5 L408.3,932.7 L409.3,928.8 L410.3,930.9 L411.3,932.8 L412.3,929.8 L413.3,926.6 L414.3,939.3 L415.4,928.8 L416.4,925.4 L417.4,931.6 L418.4,928.7 L419.4,928.0 L420.4,929.5 L421.4,930.4 L422.4,927.2 L423.4,927.8 L424.4,930.7 L425.4,929.3 L426.4,934.2 L427.4,931.9 L428.4,931.0 L429.4,931.6 L430.4,933.5 L431.4,925.9 L432.4,930.4 L433.4,929.2 L434.4,935.5 L435.4,933.1 L436.4,933.7 L437.4,932.1 L438.4,926.4 L439.4,923.9 L440.4,931.0 L441.5,924.7 L442.5,932.2 L443.5,933.3 L444.5,928.9 L445.5,932.9 L446.5,934.8 L447.5,929.8 L448.5,932.2 L449.5,930.7 L450.5,930.8 L451.5,928.8 L452.5,929.8 L453.5,929.0 L454.5,932.0 L455.5,932.0 L456.5,930.6 L457.5,931.0 L458.5,930.3 L459.5,930.7 L460.5,925.3 L461.5,932.3 L462.5,930.3 L463.5,931.4 L464.5,927.8 L465.5,934.1 L466.5,933.3 L467.6,928.3 L468.6,929.6 L469.6,931.3 L470.6,934.2 L471.6,928.2 L472.6,930.7 L473.6,933.7 L474.6,933.4 L475.6,933.9 L476.6,927.9 L477.6,932.6 L478.6,935.1 L479.6,933.8 L480.6,928.8 L481.6,930.3 L482.6,934.2 L483.6,935.5 L484.6,933.9 L485.6,931.4 L486.6,933.4 L487.6,933.9 L488.6,932.2 L489.6,933.9 L490.6,935.4 L491.6,936.3 L492.6,935.0 L493.7,934.4 L494.7,931.5 L495.7,932.0 L496.7,934.7 L497.7,929.1 L498.7,935.8 L499.7,929.5 L500.7,935.7 L501.7,933.3 L502.7,929.9 L503.7,929.8 L504.7,934.8 L505.7,932.1 L506.7,935.6 L507.7,933.0 L508.7,931.2 L509.7,934.0 L510.7,928.1 L511.7,930.3 L512.7,930.4 L513.7,934.0 L514.7,932.8 L515.7,931.6 L516.7,929.9 L517.7,930.4 L518.7,933.6 L519.8,934.9 L520.8,932.2 L521.8,926.4 L522.8,929.2 L523.8,928.3 L524.8,932.9 L525.8,926.7 L526.8,931.0 L527.8,931.8 L528.8,934.0 L529.8,936.5 L530.8,930.6 L531.8,932.3 L532.8,932.6 L533.8,936.4 L534.8,938.2 L535.8,935.7 L536.8,930.1 L537.8,927.2 L538.8,934.4 L539.8,933.5 L540.8,937.0 L541.8,935.5 L542.8,931.7 L543.8,934.8 L544.8,932.3 L545.9,929.2 L546.9,933.2 L547.9,935.9 L548.9,928.0 L549.9,931.0 L550.9,932.1 L551.9,931.8 L552.9,933.3 L553.9,930.8 L554.9,936.6 L555.9,932.8 L556.9,936.0 L557.9,932.9 L558.9,930.9 L559.9,933.2 L560.9,927.8 L561.9,932.8 L562.9,934.7 L563.9,931.9 L564.9,932.1 L565.9,931.8 L566.9,932.6 L567.9,933.1 L568.9,930.2 L569.9,937.3 L570.9,930.7 L572.0,934.4 L573.0,933.1 L574.0,935.3 L575.0,929.4 L576.0,938.6 L577.0,936.3 L578.0,934.1 L579.0,931.0 L580.0,936.6 L581.0,931.5 L582.0,930.0 L583.0,935.4 L584.0,940.0 L585.0,930.9 L586.0,933.5 L587.0,933.3 L588.0,930.1 L589.0,931.0 L590.0,934.6 L591.0,932.6 L592.0,933.9 L593.0,931.9 L594.0,933.3 L595.0,931.7 L596.0,934.9 L597.0,932.5 L598.1,932.2 L599.1,931.6 L600.1,932.9 L601.1,938.6 L602.1,931.8 L603.1,936.4 L604.1,930.4 L605.1,933.3 L606.1,933.2 L607.1,935.0 L608.1,928.5 L609.1,935.3 L610.1,929.5 L611.1,928.9 L612.1,924.8 L613.1,929.6 L614.1,933.5 L615.1,935.8 L616.1,935.2 L617.1,937.2 L618.1,929.6 L619.1,932.4 L620.1,936.2 L621.1,931.3 L622.1,933.0 L623.1,930.5 L624.2,932.3 L625.2,936.2 L626.2,932.8 L627.2,930.9 L628.2,933.0 L629.2,933.0 L630.2,936.6 L631.2,935.0 L632.2,933.2 L633.2,931.2 L634.2,934.9 L635.2,934.4 L636.2,927.8 L637.2,935.9 L638.2,934.0 L639.2,936.0 L640.2,933.5 L641.2,931.3" stroke="#fbc4ae" stroke-width="0.75" opacity="0.8"/>
<path d="M114.2,620.0 L115.1,620.0 L116.0,620.0 L116.9,620.0 L117.8,694.7 L118.7,775.6 L119.6,814.2 L120.5,847.5 L121.4,851.3 L122.3,889.7 L123.2,889.3 L124.1,898.7 L125.0,880.0 L125.9,891.4 L126.8,880.1 L127.8,888.9 L128.7,892.5 L129.6,870.7 L130.5,889.7 L131.4,898.3 L132.3,910.5 L133.2,887.2 L134.1,891.4 L135.0,914.2 L135.9,905.0 L136.8,901.9 L137.7,921.6 L138.6,908.7 L139.5,893.2 L140.4,922.8 L141.3,903.7 L142.2,891.7 L143.1,915.3 L144.0,914.4 L144.9,893.6 L145.8,906.9 L146.7,908.3 L147.6,924.8 L148.5,918.8 L149.4,912.0 L150.3,915.8 L151.2,904.5 L152.1,878.9 L153.0,917.2 L154.0,900.3 L154.9,915.7 L155.8,922.8 L156.7,915.7 L157.6,917.8 L158.5,911.2 L159.4,913.4 L160.3,919.4 L161.2,920.1 L162.1,921.2 L163.0,908.1 L163.9,903.6 L164.8,918.2 L165.7,914.0 L166.6,915.6 L167.5,921.7 L168.4,921.9 L169.3,921.7 L170.2,911.6 L171.1,923.8 L172.0,915.6 L172.9,912.6 L173.8,920.3 L174.7,921.5 L175.6,914.8 L176.5,905.5 L177.4,925.5 L178.3,924.5 L179.2,922.3 L180.2,915.9 L181.1,925.2 L182.0,916.6 L182.9,924.4 L183.8,916.1 L184.7,921.9 L185.6,922.7 L186.5,914.6 L187.4,927.7 L188.3,925.0 L189.2,915.4 L190.1,915.2 L191.0,918.9 L191.9,934.3 L192.8,915.7 L193.7,918.2 L194.6,922.6 L195.5,932.9 L196.4,915.3 L197.3,909.6 L198.2,917.5 L199.1,912.4 L200.0,924.9 L200.9,919.7 L201.8,925.0 L202.7,928.0 L203.6,923.2 L204.5,926.7 L205.4,925.8 L206.4,926.0 L207.3,923.8 L208.2,923.1 L209.1,920.6 L210.0,929.1 L210.9,919.5 L211.8,932.6 L212.7,921.2 L213.6,921.1 L214.5,935.8 L215.4,923.8 L216.3,915.2 L217.2,919.1 L218.1,924.9 L219.0,925.2 L219.9,920.2 L220.8,921.1 L221.7,917.2 L222.6,921.3 L223.5,916.8 L224.4,919.8 L225.3,926.8 L226.2,928.4 L227.1,925.5 L228.0,920.0 L228.9,927.6 L229.8,917.3 L230.7,931.6 L231.6,924.2 L232.6,928.2 L233.5,921.0 L234.4,922.1 L235.3,923.9 L236.2,930.2 L237.1,928.2 L238.0,927.0 L238.9,917.6 L239.8,927.0 L240.7,920.6 L241.6,918.3 L242.5,928.3 L243.4,926.5 L244.3,914.3 L245.2,926.0 L246.1,919.9 L247.0,929.2 L247.9,922.0 L248.8,919.7 L249.7,922.1 L250.6,926.6 L251.5,909.2 L252.4,928.0 L253.3,926.7 L254.2,911.5 L255.1,927.3 L256.0,928.3 L256.9,923.8 L257.8,923.2 L258.8,920.8 L259.7,928.9 L260.6,930.5 L261.5,930.1 L262.4,921.1 L263.3,919.5 L264.2,922.4 L265.1,927.9 L266.0,925.4 L266.9,930.3 L267.8,928.0 L268.7,920.6 L269.6,931.8 L270.5,923.6 L271.4,919.5 L272.3,931.1 L273.2,920.1 L274.1,925.7 L275.0,928.5 L275.9,921.4 L276.8,925.5 L277.7,927.1 L278.6,928.9 L279.5,930.2 L280.4,928.8 L281.3,927.3 L282.2,922.3 L283.1,927.4 L284.0,924.8 L285.0,928.2 L285.9,924.0 L286.8,926.7 L287.7,920.1 L288.6,925.2 L289.5,934.7 L290.4,927.1 L291.3,928.8 L292.2,922.0 L293.1,926.6 L294.0,922.5 L294.9,923.2 L295.8,930.0 L296.7,928.3 L297.6,926.7 L298.5,932.1 L299.4,910.7 L300.3,924.5 L301.2,933.2 L302.1,933.9 L303.0,926.6 L303.9,923.3 L304.8,934.6 L305.7,935.4 L306.6,927.3" stroke="#f3b4a8" stroke-width="0.75" opacity="0.8"/>
<path d="M114.2,620.0 L114.9,620.0 L115.6,754.6 L116.3,889.0 L117.0,912.6 L117.7,902.1 L118.4,918.3 L119.1,911.6 L119.8,919.2 L120.5,914.7 L121.2,922.4 L121.9,922.9 L122.6,928.1 L123.3,923.2 L124.0,927.1 L124.7,925.6 L125.4,926.1 L126.1,927.1 L126.8,930.4 L127.6,935.0 L128.3,933.6 L129.0,929.2 L129.7,929.3 L130.4,929.2 L131.1,933.6 L131.8,934.9 L132.5,931.4 L133.2,931.9 L133.9,933.9 L134.6,934.2 L135.3,936.7 L136.0,934.8 L136.7,932.2 L137.4,936.2 L138.1,935.6 L138.8,935.1 L139.5,935.5 L140.2,938.1 L140.9,936.0 L141.6,936.2 L142.3,935.9 L143.0,936.1 L143.7,935.6 L144.4,937.2 L145.1,933.2 L145.8,936.4 L146.5,933.8 L147.2,933.9 L147.9,936.0 L148.6,938.0 L149.3,939.4 L150.0,938.6 L150.7,936.9 L151.4,936.4 L152.1,937.7 L152.8,937.4 L153.6,933.0 L154.3,936.3 L155.0,938.4 L155.7,936.0 L156.4,938.1 L157.1,940.1 L157.8,936.7 L158.5,938.0 L159.2,936.9 L159.9,934.6 L160.6,936.9 L161.3,938.2 L162.0,935.0 L162.7,939.9 L163.4,938.7 L164.1,935.4 L164.8,935.3 L165.5,937.6 L166.2,938.2 L166.9,937.0 L167.6,937.0 L168.3,937.2 L169.0,938.1 L169.7,939.1 L170.4,938.4 L171.1,938.1 L171.8,938.1 L172.5,938.4 L173.2,937.8 L173.9,939.9 L174.6,936.6 L175.3,936.1 L176.0,938.5 L176.7,939.4 L177.4,937.4 L178.1,937.2 L178.8,938.0 L179.5,936.7 L180.3,938.5 L181.0,939.1 L181.7,936.1 L182.4,938.5 L183.1,938.4 L183.8,940.6 L184.5,938.4 L185.2,938.7 L185.9,938.0 L186.6,937.2 L187.3,937.8 L188.0,939.3 L188.7,936.8 L189.4,937.6 L190.1,937.4 L190.8,938.1 L191.5,938.0 L192.2,939.6 L192.9,939.8 L193.6,938.8 L194.3,938.9 L195.0,937.9 L195.7,941.9 L196.4,938.8 L197.1,939.1 L197.8,937.0 L198.5,938.9 L199.2,938.8 L199.9,938.2 L200.6,937.8 L201.3,940.5 L202.0,939.7 L202.7,937.6 L203.4,938.0 L204.1,938.4 L204.8,936.7 L205.5,940.1 L206.3,938.3 L207.0,939.0 L207.7,938.1 L208.4,939.2 L209.1,938.1 L209.8,935.6 L210.5,937.8 L211.2,938.2 L211.9,936.7 L212.6,937.7 L213.3,936.1 L214.0,939.3 L214.7,939.6 L215.4,940.6 L216.1,939.4 L216.8,940.5 L217.5,936.8 L218.2,938.3 L218.9,937.9 L219.6,938.3 L220.3,938.5 L221.0,938.7 L221.7,940.1 L222.4,936.9 L223.1,938.9 L223.8,936.6 L224.5,937.8 L225.2,940.0 L225.9,939.0 L226.6,939.0 L227.3,939.2 L228.0,939.3 L228.7,936.1 L229.4,939.3 L230.1,937.0 L230.8,938.5 L231.5,938.7 L232.3,939.3 L233.0,938.3 L233.7,939.2 L234.4,938.4 L235.1,938.8 L235.8,937.6 L236.5,940.7 L237.2,937.1 L237.9,939.3 L238.6,937.6 L239.3,939.5 L240.0,939.1 L240.7,938.4 L241.4,939.3 L242.1,939.5 L242.8,939.2 L243.5,937.5 L244.2,940.7 L244.9,939.0 L245.6,937.6 L246.3,939.3 L247.0,937.5 L247.7,941.3 L248.4,940.4 L249.1,939.6 L249.8,939.4 L250.5,939.8 L251.2,935.2 L251.9,940.2 L252.6,938.8 L253.3,938.9 L254.0,939.3 L254.7,937.0 L255.4,939.5 L256.1,937.1 L256.8,939.8 L257.5,938.7 L258.3,938.8 L259.0,939.9 L259.7,938.4 L260.4,937.9 L261.1,938.5 L261.8,939.1" stroke="#a9c4ee" stroke-width="0.75" opacity="0.8"/>
<path d="M114.2,620.0 L115.2,620.0 L116.1,620.0 L117.1,620.0 L118.0,620.0 L119.0,620.0 L119.9,620.0 L120.9,620.0 L121.8,620.0 L122.8,620.0 L123.7,620.0 L124.7,620.0 L125.6,620.0 L126.6,620.0 L127.6,620.0 L128.5,620.0 L129.5,620.0 L130.4,620.0 L131.4,620.0 L132.3,627.4 L133.3,631.6 L134.2,661.2 L135.2,661.6 L136.1,656.2 L137.1,673.7 L138.0,689.0 L139.0,687.3 L139.9,712.5 L140.9,716.0 L141.9,728.4 L142.8,730.8 L143.8,738.1 L144.7,738.4 L145.7,744.4 L146.6,742.4 L147.6,745.9 L148.5,746.7 L149.5,736.5 L150.4,773.7 L151.4,747.2 L152.3,764.8 L153.3,781.0 L154.3,773.5 L155.2,772.2 L156.2,764.0 L157.1,788.7 L158.1,780.3 L159.0,782.8 L160.0,804.1 L160.9,803.7 L161.9,787.8 L162.8,787.2 L163.8,785.6 L164.7,793.1 L165.7,797.5 L166.7,802.7 L167.6,795.4 L168.6,815.1 L169.5,812.6 L170.5,809.1 L171.4,827.6 L172.4,805.9 L173.3,823.2 L174.3,804.0 L175.2,786.0 L176.2,825.2 L177.1,828.8 L178.1,813.5 L179.0,834.7 L180.0,833.4 L181.0,827.2 L181.9,828.3 L182.9,828.8 L183.8,832.0 L184.8,826.3 L185.7,829.5 L186.7,834.3 L187.6,845.6 L188.6,848.4 L189.5,858.4 L190.5,841.5 L191.4,858.0 L192.4,841.4 L193.4,833.2 L194.3,853.3 L195.3,852.8 L196.2,852.7 L197.2,844.2 L198.1,855.5 L199.1,852.4 L200.0,855.2 L201.0,854.3 L201.9,844.4 L202.9,858.7 L203.8,853.8 L204.8,852.3 L205.8,848.6 L206.7,862.5 L207.7,848.9 L208.6,852.1 L209.6,850.0 L210.5,855.3 L211.5,867.4 L212.4,862.8 L213.4,853.1 L214.3,857.4 L215.3,858.7 L216.2,847.4 L217.2,843.7 L218.1,857.8 L219.1,847.2 L220.1,871.1 L221.0,874.5 L222.0,856.8 L222.9,862.0 L223.9,857.7 L224.8,857.9 L225.8,862.1 L226.7,858.1 L227.7,861.3 L228.6,872.4 L229.6,863.3 L230.5,854.2 L231.5,851.9 L232.5,870.0 L233.4,865.6 L234.4,868.0 L235.3,866.9 L236.3,856.3 L237.2,863.1 L238.2,869.2 L239.1,866.6 L240.1,862.9 L241.0,873.0 L242.0,870.1 L242.9,859.3 L243.9,862.2 L244.8,867.9 L245.8,871.3 L246.8,870.0 L247.7,878.1 L248.7,864.7 L249.6,866.8 L250.6,868.4 L251.5,877.0 L252.5,874.8 L253.4,867.6 L254.4,868.4 L255.3,873.0 L256.3,867.9 L257.2,865.0 L258.2,874.1 L259.2,874.5 L260.1,876.6 L261.1,878.7 L262.0,868.0 L263.0,868.5 L263.9,869.7 L264.9,878.6 L265.8,879.1 L266.8,873.8 L267.7,875.3 L268.7,872.7 L269.6,877.1 L270.6,870.2 L271.6,863.2 L272.5,863.9 L273.5,863.9 L274.4,872.6 L275.4,869.1 L276.3,876.0 L277.3,869.8 L278.2,876.4 L279.2,878.0 L280.1,879.1 L281.1,872.0 L282.0,873.7 L283.0,874.5 L283.9,881.9 L284.9,876.0 L285.9,884.0 L286.8,869.3 L287.8,876.3 L288.7,875.6 L289.7,877.2 L290.6,885.5 L291.6,885.5 L292.5,878.4 L293.5,869.5 L294.4,882.6 L295.4,882.1 L296.3,878.6 L297.3,887.1 L298.3,888.3 L299.2,881.7 L300.2,879.1 L301.1,880.7 L302.1,870.9 L303.0,878.8 L304.0,877.1 L304.9,870.4 L305.9,869.2 L306.8,886.5 L307.8,882.3 L308.7,873.8 L309.7,886.2 L310.7,885.4 L311.6,887.4 L312.6,888.0 L313.5,887.0 L314.5,880.2 L315.4,873.8 L316.4,871.8 L317.3,879.5 L318.3,890.8 L319.2,882.3 L320.2,882.9 L321.1,875.1 L322.1,881.1 L323.0,890.5 L324.0,880.4 L325.0,892.0 L325.9,886.4 L326.9,880.7 L327.8,879.9 L328.8,873.7 L329.7,893.2 L330.7,881.8 L331.6,878.7 L332.6,883.7 L333.5,879.4 L334.5,887.8 L335.4,879.9 L336.4,879.6 L337.4,887.3 L338.3,886.7 L339.3,884.2 L340.2,886.3 L341.2,877.9 L342.1,881.4 L343.1,876.1 L344.0,876.1 L345.0,881.8 L345.9,883.8 L346.9,879.2 L347.8,886.7 L348.8,887.6 L349.8,881.9 L350.7,887.5 L351.7,883.3 L352.6,882.3 L353.6,885.6 L354.5,884.5 L355.5,876.2 L356.4,874.4 L357.4,886.2 L358.3,884.7 L359.3,885.5 L360.2,885.1 L361.2,876.0 L362.1,879.2 L363.1,876.7 L364.1,873.9 L365.0,884.7 L366.0,884.8 L366.9,883.7 L367.9,878.7 L368.8,883.7 L369.8,880.7 L370.7,877.8 L371.7,877.5 L372.6,881.1 L373.6,887.8 L374.5,892.5 L375.5,879.8 L376.5,881.6 L377.4,874.2 L378.4,885.8 L379.3,887.0 L380.3,893.3 L381.2,884.5 L382.2,888.7 L383.1,886.8 L384.1,881.5 L385.0,877.3 L386.0,881.5 L386.9,882.6 L387.9,884.8 L388.9,885.0 L389.8,876.1 L390.8,885.1 L391.7,877.4 L392.7,889.1 L393.6,882.4 L394.6,884.4 L395.5,889.2 L396.5,899.2 L397.4,879.7 L398.4,890.9 L399.3,891.4 L400.3,886.3 L401.2,886.1 L402.2,885.1 L403.2,887.7 L404.1,894.1 L405.1,883.5 L406.0,890.9 L407.0,886.5 L407.9,884.3 L408.9,881.3 L409.8,887.7 L410.8,889.0 L411.7,888.9 L412.7,896.8 L413.6,892.6 L414.6,893.3 L415.6,894.2 L416.5,888.1 L417.5,889.8 L418.4,881.0 L419.4,880.5" stroke="#19b1ea" stroke-width="1.65"/>
<path d="M114.2,620.0 L115.2,620.0 L116.2,620.0 L117.2,645.0 L118.2,728.8 L119.2,756.3 L120.2,763.9 L121.2,777.6 L122.2,794.1 L123.2,781.7 L124.2,803.6 L125.2,818.7 L126.2,829.6 L127.2,852.4 L128.3,831.5 L129.3,862.0 L130.3,865.4 L131.3,882.2 L132.3,890.0 L133.3,881.9 L134.3,887.6 L135.3,893.0 L136.3,877.8 L137.3,894.5 L138.3,907.0 L139.3,915.0 L140.3,914.1 L141.3,915.4 L142.3,918.3 L143.3,912.3 L144.3,912.0 L145.3,910.8 L146.3,910.5 L147.3,913.9 L148.3,914.2 L149.3,913.4 L150.3,917.7 L151.3,917.5 L152.3,904.0 L153.3,916.4 L154.4,917.8 L155.4,916.6 L156.4,911.8 L157.4,915.1 L158.4,918.1 L159.4,919.6 L160.4,918.5 L161.4,910.9 L162.4,927.8 L163.4,918.0 L164.4,917.9 L165.4,916.1 L166.4,922.4 L167.4,913.0 L168.4,915.6 L169.4,919.3 L170.4,919.3 L171.4,922.1 L172.4,920.3 L173.4,920.8 L174.4,917.7 L175.4,919.2 L176.4,920.9 L177.4,918.9 L178.4,919.2 L179.4,920.2 L180.5,925.6 L181.5,918.8 L182.5,924.5 L183.5,924.8 L184.5,922.3 L185.5,920.3 L186.5,917.5 L187.5,926.2 L188.5,918.3 L189.5,916.9 L190.5,922.8 L191.5,922.8 L192.5,923.9 L193.5,924.2 L194.5,926.4 L195.5,927.7 L196.5,923.8 L197.5,922.1 L198.5,917.7 L199.5,925.0 L200.5,928.9 L201.5,923.3 L202.5,924.4 L203.5,922.3 L204.5,924.2 L205.5,926.8 L206.6,925.6 L207.6,921.5 L208.6,922.5 L209.6,926.0 L210.6,921.6 L211.6,927.2 L212.6,925.5 L213.6,923.5 L214.6,927.4 L215.6,927.4 L216.6,924.3 L217.6,924.2 L218.6,924.7 L219.6,925.6 L220.6,919.4 L221.6,925.7 L222.6,916.7 L223.6,925.0 L224.6,920.6 L225.6,925.5 L226.6,921.2 L227.6,921.1 L228.6,923.1 L229.6,926.1 L230.6,928.4 L231.6,922.8 L232.7,927.8 L233.7,928.4 L234.7,921.6 L235.7,920.9 L236.7,924.4 L237.7,925.6 L238.7,926.8 L239.7,924.5 L240.7,926.3 L241.7,929.1 L242.7,927.6 L243.7,925.0 L244.7,929.2 L245.7,928.3 L246.7,925.5 L247.7,921.5 L248.7,924.7 L249.7,925.4 L250.7,921.0 L251.7,927.7 L252.7,927.7 L253.7,924.0 L254.7,923.1 L255.7,924.5 L256.7,932.0 L257.7,925.0 L258.8,924.3 L259.8,925.8 L260.8,924.5 L261.8,922.7 L262.8,925.7 L263.8,928.4 L264.8,930.8 L265.8,926.7 L266.8,928.1 L267.8,927.9 L268.8,929.2 L269.8,926.2 L270.8,917.6 L271.8,924.5 L272.8,928.9 L273.8,924.8 L274.8,925.7 L275.8,932.2 L276.8,926.0 L277.8,931.3 L278.8,929.9 L279.8,924.8 L280.8,925.1 L281.8,928.1 L282.8,929.0 L283.8,926.4 L284.9,930.9 L285.9,926.5 L286.9,927.6 L287.9,925.5 L288.9,927.2 L289.9,929.5 L290.9,927.0 L291.9,927.9 L292.9,930.4 L293.9,930.2 L294.9,929.8 L295.9,927.5 L296.9,925.7 L297.9,926.9 L298.9,930.0 L299.9,928.6 L300.9,926.4 L301.9,925.0 L302.9,929.3 L303.9,927.1 L304.9,928.4 L305.9,932.4 L306.9,931.0 L307.9,929.3 L308.9,929.0 L309.9,928.7 L311.0,929.2 L312.0,927.1 L313.0,929.8 L314.0,931.5 L315.0,927.2 L316.0,929.1 L317.0,926.4 L318.0,929.5 L319.0,925.3 L320.0,930.3 L321.0,930.8 L322.0,926.9 L323.0,924.1 L324.0,929.3 L325.0,924.9 L326.0,924.5 L327.0,926.0 L328.0,928.4 L329.0,932.8 L330.0,932.0 L331.0,930.4 L332.0,927.5 L333.0,928.6 L334.0,929.7 L335.0,928.3 L336.0,931.8 L337.1,928.0 L338.1,930.3 L339.1,926.0 L340.1,927.8 L341.1,930.0 L342.1,929.8 L343.1,932.0 L344.1,928.6 L345.1,930.6 L346.1,929.1 L347.1,926.3 L348.1,927.7 L349.1,927.6 L350.1,923.2 L351.1,926.6 L352.1,926.2 L353.1,929.0 L354.1,931.2 L355.1,928.6 L356.1,931.1 L357.1,935.2 L358.1,928.4 L359.1,928.1 L360.1,931.0 L361.1,926.6 L362.1,928.8 L363.2,929.9 L364.2,931.0 L365.2,926.9 L366.2,929.7 L367.2,930.2 L368.2,930.2 L369.2,930.9 L370.2,932.7 L371.2,931.1 L372.2,931.3 L373.2,928.2 L374.2,931.8 L375.2,928.4 L376.2,930.4 L377.2,931.2 L378.2,930.1 L379.2,929.6 L380.2,929.4 L381.2,928.5 L382.2,929.2 L383.2,932.6 L384.2,931.5 L385.2,927.0 L386.2,929.8 L387.2,934.3 L388.2,930.2 L389.3,926.8 L390.3,927.5 L391.3,929.7 L392.3,929.7 L393.3,928.9 L394.3,930.3 L395.3,931.1 L396.3,914.6 L397.3,929.2 L398.3,928.4 L399.3,933.0 L400.3,932.2 L401.3,932.8 L402.3,930.0 L403.3,931.6 L404.3,931.9 L405.3,932.4 L406.3,930.6 L407.3,928.9 L408.3,931.6 L409.3,929.8 L410.3,930.7 L411.3,931.9 L412.3,930.4 L413.3,928.5 L414.3,935.2 L415.4,930.3 L416.4,927.9 L417.4,931.0 L418.4,929.8 L419.4,929.3 L420.4,930.0 L421.4,930.6 L422.4,928.9 L423.4,929.1 L424.4,930.7 L425.4,930.1 L426.4,932.8 L427.4,931.8 L428.4,931.3 L429.4,931.5 L430.4,932.6 L431.4,928.6 L432.4,930.5 L433.4,930.1 L434.4,933.5 L435.4,932.6 L436.4,932.8 L437.4,932.0 L438.4,928.8 L439.4,927.0 L440.4,930.7 L441.5,927.7 L442.5,931.5 L443.5,932.5 L444.5,930.3 L445.5,932.2 L446.5,933.5 L447.5,930.8 L448.5,931.9 L449.5,931.2 L450.5,931.1 L451.5,930.0 L452.5,930.5 L453.5,930.1 L454.5,931.7 L455.5,931.9 L456.5,931.1 L457.5,931.3 L458.5,930.9 L459.5,931.1 L460.5,928.2 L461.5,931.7 L462.5,931.0 L463.5,931.5 L464.5,929.6 L465.5,932.8 L466.5,932.8 L467.6,930.0 L468.6,930.5 L469.6,931.4 L470.6,933.1 L471.6,930.0 L472.6,931.0 L473.6,932.8 L474.6,932.9 L475.6,933.2 L476.6,929.9 L477.6,932.1 L478.6,933.7 L479.6,933.2 L480.6,930.4 L481.6,930.9 L482.6,933.1 L483.6,934.1 L484.6,933.3 L485.6,931.9 L486.6,932.8 L487.6,933.2 L488.6,932.3 L489.6,933.2 L490.6,934.1 L491.6,934.7 L492.6,934.1 L493.7,933.6 L494.7,932.0 L495.7,932.1 L496.7,933.6 L497.7,930.7 L498.7,934.0 L499.7,931.0 L500.7,934.0 L501.7,933.1 L502.7,931.1 L503.7,930.8 L504.7,933.5 L505.7,932.4 L506.7,934.1 L507.7,932.9 L508.7,931.8 L509.7,933.2 L510.7,930.1 L511.7,931.0 L512.7,931.2 L513.7,933.2 L514.7,932.7 L515.7,932.0 L516.7,931.0 L517.7,931.2 L518.7,932.9 L519.8,933.8 L520.8,932.5 L521.8,929.1 L522.8,930.3 L523.8,929.9 L524.8,932.4 L525.8,929.3 L526.8,931.3 L527.8,932.0 L528.8,933.3 L529.8,934.8 L530.8,931.7 L531.8,932.3 L532.8,932.5 L533.8,934.7 L534.8,935.9 L535.8,934.7 L536.8,931.4 L537.8,929.5 L538.8,933.2 L539.8,933.2 L540.8,935.1 L541.8,934.5 L542.8,932.3 L543.8,933.8 L544.8,932.6 L545.9,930.7 L546.9,932.7 L547.9,934.5 L548.9,930.3 L549.9,931.4 L550.9,932.2 L551.9,932.1 L552.9,933.0 L553.9,931.7 L554.9,934.7 L555.9,933.0 L556.9,934.6 L557.9,933.1 L558.9,931.8 L559.9,932.9 L560.9,930.1 L561.9,932.5 L562.9,933.8 L563.9,932.4 L564.9,932.4 L565.9,932.2 L566.9,932.6 L567.9,932.9 L568.9,931.4 L569.9,935.1 L570.9,932.0 L572.0,933.6 L573.0,933.1 L574.0,934.2 L575.0,931.1 L576.0,935.8 L577.0,935.1 L578.0,933.8 L579.0,932.0 L580.0,934.8 L581.0,932.4 L582.0,931.2 L583.0,934.1 L584.0,937.0 L585.0,932.3 L586.0,933.2 L587.0,933.2 L588.0,931.4 L589.0,931.7 L590.0,933.7 L591.0,932.9 L592.0,933.5 L593.0,932.5 L594.0,933.1 L595.0,932.3 L596.0,934.0 L597.0,932.9 L598.1,932.6 L599.1,932.2 L600.1,932.9 L601.1,936.2 L602.1,932.8 L603.1,934.9 L604.1,931.9 L605.1,933.1 L606.1,933.2 L607.1,934.2 L608.1,930.8 L609.1,934.1 L610.1,931.3 L611.1,930.6 L612.1,928.3 L613.1,930.7 L614.1,933.1 L615.1,934.6 L616.1,934.5 L617.1,935.6 L618.1,931.6 L619.1,932.6 L620.1,934.8 L621.1,932.4 L622.1,933.1 L623.1,931.8 L624.2,932.6 L625.2,934.8 L626.2,933.3 L627.2,932.0 L628.2,933.0 L629.2,933.2 L630.2,935.2 L631.2,934.5 L632.2,933.5 L633.2,932.3 L634.2,934.1 L635.2,934.1 L636.2,930.4 L637.2,934.5 L638.2,933.9 L639.2,934.9 L640.2,933.7 L641.2,932.4" stroke="#f0521c" stroke-width="1.20"/>
<path d="M114.2,620.0 L115.1,620.0 L116.0,620.0 L116.9,620.0 L117.8,701.3 L118.7,777.3 L119.6,820.6 L120.5,850.9 L121.4,858.2 L122.3,883.1 L123.2,886.7 L124.1,892.8 L125.0,884.0 L125.9,889.8 L126.8,885.0 L127.8,889.8 L128.7,892.8 L129.6,881.6 L130.5,891.2 L131.4,897.5 L132.3,905.4 L133.2,894.0 L134.1,895.3 L135.0,908.3 L135.9,905.0 L136.8,903.2 L137.7,914.1 L138.6,908.5 L139.5,899.6 L140.4,915.1 L141.3,906.7 L142.2,899.3 L143.1,911.6 L144.0,912.8 L144.9,901.7 L145.8,907.8 L146.7,909.4 L147.6,918.8 L148.5,916.8 L149.4,912.9 L150.3,914.6 L151.2,908.7 L152.1,894.1 L153.0,913.5 L154.0,906.7 L154.9,914.4 L155.8,919.4 L156.7,916.2 L157.6,917.1 L158.5,913.6 L159.4,914.6 L160.3,918.1 L161.2,919.0 L162.1,919.8 L163.0,912.6 L163.9,909.3 L164.8,917.0 L165.7,915.7 L166.6,916.4 L167.5,919.9 L168.4,920.5 L169.3,920.5 L170.2,915.0 L171.1,921.0 L172.0,917.3 L172.9,915.2 L173.8,919.3 L174.7,920.5 L175.6,916.9 L176.5,911.4 L177.4,921.8 L178.3,922.5 L179.2,921.4 L180.2,917.7 L181.1,922.4 L182.0,918.3 L182.9,922.1 L183.8,918.0 L184.7,920.7 L185.6,921.5 L186.5,917.2 L187.4,923.9 L188.3,923.2 L189.2,917.9 L190.1,917.2 L191.0,919.1 L191.9,927.9 L192.8,918.7 L193.7,919.0 L194.6,921.5 L195.5,927.4 L196.4,918.5 L197.3,914.3 L198.2,918.2 L199.1,915.8 L200.0,922.5 L200.9,920.4 L201.8,923.1 L202.7,925.1 L203.6,922.7 L204.5,924.4 L205.4,924.1 L206.4,924.2 L207.3,923.0 L208.2,922.5 L209.1,921.1 L210.0,925.6 L210.9,920.9 L211.8,927.6 L212.7,922.1 L213.6,921.4 L214.5,929.4 L215.4,923.8 L216.3,918.4 L217.2,919.9 L218.1,923.3 L219.0,923.9 L219.9,921.2 L220.8,921.4 L221.7,919.3 L222.6,921.3 L223.5,919.1 L224.4,920.6 L225.3,924.6 L226.2,925.9 L227.1,924.5 L228.0,921.4 L228.9,925.2 L229.8,920.0 L230.7,927.3 L231.6,924.1 L232.6,925.9 L233.5,922.2 L234.4,922.4 L235.3,923.4 L236.2,927.0 L237.1,926.4 L238.0,925.7 L238.9,920.5 L239.8,925.0 L240.7,922.1 L241.6,920.5 L242.5,925.8 L243.4,925.5 L244.3,918.8 L245.2,924.4 L246.1,921.7 L247.0,926.5 L247.9,923.2 L248.8,921.6 L249.7,922.7 L250.6,925.3 L251.5,916.1 L252.4,925.4 L253.3,925.8 L254.2,917.5 L255.1,925.2 L256.0,926.7 L256.9,924.4 L257.8,923.9 L258.8,922.5 L259.7,926.8 L260.6,928.2 L261.5,928.2 L262.4,923.3 L263.3,921.8 L264.2,923.2 L265.1,926.5 L266.0,925.5 L266.9,928.1 L267.8,927.1 L268.7,923.0 L269.6,928.7 L270.5,924.9 L271.4,922.2 L272.3,928.2 L273.2,922.9 L274.1,925.4 L275.0,927.2 L275.9,923.6 L276.8,925.4 L277.7,926.5 L278.6,927.6 L279.5,928.5 L280.4,927.9 L281.3,927.0 L282.2,924.1 L283.1,926.6 L284.0,925.5 L285.0,927.3 L285.9,925.1 L286.8,926.4 L287.7,923.0 L288.6,925.3 L289.5,930.9 L290.4,927.4 L291.3,927.9 L292.2,924.2 L293.1,926.3 L294.0,924.4 L294.9,924.5 L295.8,928.3 L296.7,927.9 L297.6,926.9 L298.5,929.8 L299.4,918.4 L300.3,924.6 L301.2,930.1 L302.1,931.2 L303.0,927.3 L303.9,925.1 L304.8,931.0 L305.7,932.2 L306.6,927.9" stroke="#c3200f" stroke-width="1.45"/>
<path d="M114.2,620.0 L114.9,620.0 L115.6,755.1 L116.3,888.6 L117.0,905.3 L117.7,903.7 L118.4,914.0 L119.1,912.8 L119.8,917.9 L120.5,917.1 L121.2,921.8 L121.9,923.0 L122.6,926.4 L123.3,924.4 L124.0,926.7 L124.7,926.5 L125.4,927.1 L126.1,927.9 L126.8,929.9 L127.6,932.9 L128.3,932.6 L129.0,930.3 L129.7,930.2 L130.4,930.3 L131.1,932.9 L131.8,934.0 L132.5,932.4 L133.2,932.6 L133.9,933.8 L134.6,934.2 L135.3,935.6 L136.0,934.8 L136.7,933.3 L137.4,935.4 L138.1,935.3 L138.8,935.1 L139.5,935.3 L140.2,936.8 L140.9,935.8 L141.6,935.9 L142.3,935.7 L143.0,935.9 L143.7,935.6 L144.4,936.5 L145.1,934.5 L145.8,936.0 L146.5,934.8 L147.2,934.7 L147.9,935.9 L148.6,937.2 L149.3,938.2 L150.0,937.8 L150.7,936.9 L151.4,936.5 L152.1,937.2 L152.8,937.1 L153.6,934.7 L154.3,936.3 L155.0,937.6 L155.7,936.4 L156.4,937.5 L157.1,938.7 L157.8,937.0 L158.5,937.5 L159.2,937.0 L159.9,935.7 L160.6,936.8 L161.3,937.7 L162.0,936.0 L162.7,938.5 L163.4,938.2 L164.1,936.3 L164.8,936.0 L165.5,937.3 L166.2,937.8 L166.9,937.2 L167.6,937.1 L168.3,937.3 L169.0,937.7 L169.7,938.4 L170.4,938.1 L171.1,937.9 L171.8,937.9 L172.5,938.1 L173.2,937.8 L173.9,938.9 L174.6,937.2 L175.3,936.7 L176.0,938.0 L176.7,938.7 L177.4,937.6 L178.1,937.4 L178.8,937.8 L179.5,937.2 L180.3,938.1 L181.0,938.6 L181.7,937.0 L182.4,938.1 L183.1,938.2 L183.8,939.4 L184.5,938.4 L185.2,938.4 L185.9,938.0 L186.6,937.6 L187.3,937.8 L188.0,938.7 L188.7,937.4 L189.4,937.7 L190.1,937.6 L190.8,938.0 L191.5,938.0 L192.2,938.9 L192.9,939.1 L193.6,938.6 L194.3,938.6 L195.0,938.0 L195.7,940.2 L196.4,938.7 L197.1,938.8 L197.8,937.6 L198.5,938.5 L199.2,938.6 L199.9,938.2 L200.6,938.0 L201.3,939.4 L202.0,939.2 L202.7,938.0 L203.4,938.1 L204.1,938.3 L204.8,937.4 L205.5,939.2 L206.3,938.4 L207.0,938.7 L207.7,938.2 L208.4,938.8 L209.1,938.3 L209.8,936.8 L210.5,937.8 L211.2,938.2 L211.9,937.4 L212.6,937.9 L213.3,937.0 L214.0,938.7 L214.7,939.1 L215.4,939.7 L216.1,939.1 L216.8,939.6 L217.5,937.7 L218.2,938.3 L218.9,938.1 L219.6,938.3 L220.3,938.4 L221.0,938.6 L221.7,939.4 L222.4,937.7 L223.1,938.6 L223.8,937.5 L224.5,938.0 L225.2,939.3 L225.9,938.9 L226.6,938.8 L227.3,939.0 L228.0,939.0 L228.7,937.3 L229.4,938.8 L230.1,937.7 L230.8,938.4 L231.5,938.6 L232.3,939.0 L233.0,938.5 L233.7,938.9 L234.4,938.5 L235.1,938.7 L235.8,938.1 L236.5,939.7 L237.2,937.9 L237.9,938.9 L238.6,938.1 L239.3,939.1 L240.0,938.9 L240.7,938.6 L241.4,939.0 L242.1,939.2 L242.8,939.0 L243.5,938.1 L244.2,939.8 L244.9,939.0 L245.6,938.2 L246.3,939.0 L247.0,938.1 L247.7,940.1 L248.4,939.8 L249.1,939.4 L249.8,939.2 L250.5,939.4 L251.2,936.9 L251.9,939.4 L252.6,938.9 L253.3,938.9 L254.0,939.1 L254.7,937.9 L255.4,939.1 L256.1,937.9 L256.8,939.3 L257.5,938.8 L258.3,938.9 L259.0,939.5 L259.7,938.7 L260.4,938.4 L261.1,938.6 L261.8,939.0" stroke="#0d47a8" stroke-width="1.60"/>
</g>
<text x="486.8" y="668.6" font-size="12.2" font-weight="bold" fill="#18a6e2" textLength="126.5" lengthAdjust="spacingAndGlyphs">--case I: x and y jitters</text>
<text x="486.8" y="685.7" font-size="12.2" font-weight="bold" fill="#e9631c" textLength="120.5" lengthAdjust="spacingAndGlyphs">-- case II: x jitter only</text>
<text x="486.8" y="702.8" font-size="12.2" font-weight="bold" fill="#8f2312" textLength="124.5" lengthAdjust="spacingAndGlyphs">-- case III: y jitter only</text>
<text x="486.8" y="720.0" font-size="12.2" font-weight="bold" fill="#0d47a8" textLength="180.5" lengthAdjust="spacingAndGlyphs">-- case IV: without x and y jitter</text>
</svg></body></html>
